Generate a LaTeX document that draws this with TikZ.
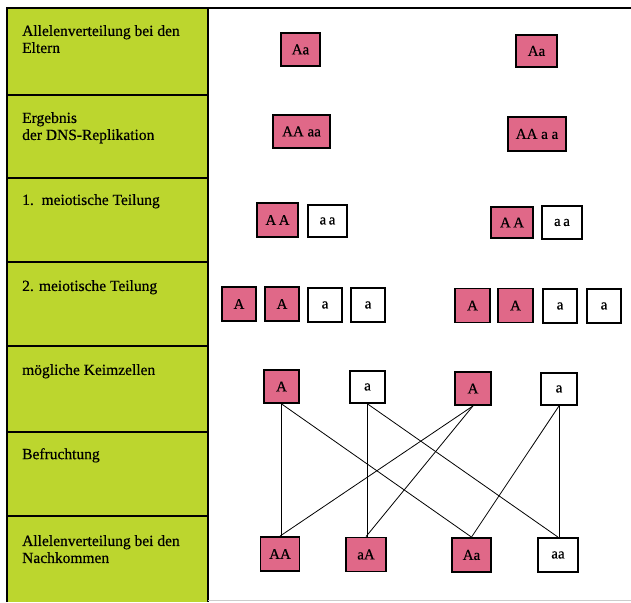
\documentclass[tikz,border=0pt]{standalone}
\usepackage{fontspec}
\setmainfont{Liberation Serif}
\newfontfamily\heavyserif[FakeBold=0.5]{Liberation Serif}
\definecolor{panelgreen}{RGB}{188,214,46}
\definecolor{cellpink}{RGB}{224,104,136}
\begin{document}
\begin{tikzpicture}[x=1pt,y=-1pt,
  lbl/.style={anchor=north west,align=left,font=\heavyserif\fontsize{15.5}{17}\selectfont,inner sep=0pt},
  cell/.style={draw=black,line width=1.8pt,inner sep=0pt,font=\heavyserif\fontsize{15}{15}\selectfont},
  pk/.style={cell,fill=cellpink},
  wt/.style={cell,fill=white},
  link/.style={draw=black,line width=0.8pt}]
\useasboundingbox (0,0) rectangle (631,602);
% left panel
\fill[panelgreen] (7,8) rectangle (208,602);
\draw[line width=1.8pt] (7,602) -- (7,8) -- (631,8);
\draw[line width=1.8pt] (208,8) -- (208,602);
\foreach \yy in {95,178,262,346,432,516} \draw[line width=1.8pt] (7,\yy) -- (208,\yy);
\draw[gray!40,line width=0.6pt] (208,600) -- (631,600);
% labels
\node[lbl] (l1) at (22,25) {Allelenverteilung bei den\\Eltern};
\node[lbl] (l2) at (22,112) {Ergebnis\\der DNS-Replikation};
\node[lbl] (l3) at (22,194) {1.\ \ meiotische Teilung};
\node[lbl] (l4) at (22,280) {2. meiotische Teilung};
\node[lbl] (l5) at (22,364) {mögliche Keimzellen};
\node[lbl] (l6) at (22,448) {Befruchtung};
\node[lbl] (l7) at (22,535) {Allelenverteilung bei den\\Nachkommen};
% row 1
\node[pk,minimum width=39pt,minimum height=33pt] (p1) at (300.5,49.5) {Aa};
\node[pk,minimum width=41pt,minimum height=32pt] (p2) at (536.5,51) {Aa};
% row 2
\node[pk,minimum width=57pt,minimum height=33pt] (r1) at (301.5,131.5) {AA aa};
\node[pk,minimum width=58pt,minimum height=34pt] (r2) at (537,134) {AA a a};
% row 3
\node[pk,minimum width=41pt,minimum height=34pt] (m1) at (277.5,220) {A\,A};
\node[wt,minimum width=39pt,minimum height=32pt] (m2) at (327.5,221) {a\,a};
\node[pk,minimum width=42pt,minimum height=31pt] (m3) at (512,222.5) {A\,A};
\node[wt,minimum width=40pt,minimum height=33pt] (m4) at (562,222.5) {a\,a};
% row 4
\node[pk,minimum width=34pt,minimum height=34pt] (s1) at (239,304) {A};
\node[pk,minimum width=34pt,minimum height=34pt] (s2) at (282,304) {A};
\node[wt,minimum width=34pt,minimum height=34pt] (s3) at (325,305) {a};
\node[wt,minimum width=34pt,minimum height=34pt] (s4) at (368,305) {a};
\node[pk,minimum width=35pt,minimum height=34pt] (s5) at (472.5,305.5) {A};
\node[pk,minimum width=35pt,minimum height=34pt] (s6) at (515.5,305.5) {A};
\node[wt,minimum width=34pt,minimum height=34pt] (s7) at (560,306) {a};
\node[wt,minimum width=34pt,minimum height=34pt] (s8) at (604,306) {a};
% row 5 gametes
\node[pk,minimum width=35pt,minimum height=33pt] (g1) at (281.5,386.5) {A};
\node[wt,minimum width=35pt,minimum height=32pt] (g2) at (367.5,387) {a};
\node[pk,minimum width=36pt,minimum height=33pt] (g3) at (473,388.5) {A};
\node[wt,minimum width=36pt,minimum height=32pt] (g4) at (559,389) {a};
% row 7 offspring
\node[pk,minimum width=39pt,minimum height=34pt] (o1) at (280,554) {AA};
\node[pk,minimum width=40pt,minimum height=34pt] (o2) at (366,554.5) {aA};
\node[pk,minimum width=39pt,minimum height=34pt] (o3) at (471.5,555) {Aa};
\node[wt,minimum width=40pt,minimum height=34pt] (o4) at (558,555) {aa};
% fertilisation lines
\draw[link] (g1.south) -- (g1.south |- o1.north);
\draw[link] (g1.south) -- (o3.north);
\draw[link] (g2.south) -- (g2.south |- o2.north);
\draw[link] (g2.south) -- (o4.north);
\draw[link] (g3.south) -- (o1.north);
\draw[link] (g3.south) -- (o2.north);
\draw[link] (g4.south) -- (o3.north);
\draw[link] (g4.south) -- (g4.south |- o4.north);
\end{tikzpicture}
\end{document}
